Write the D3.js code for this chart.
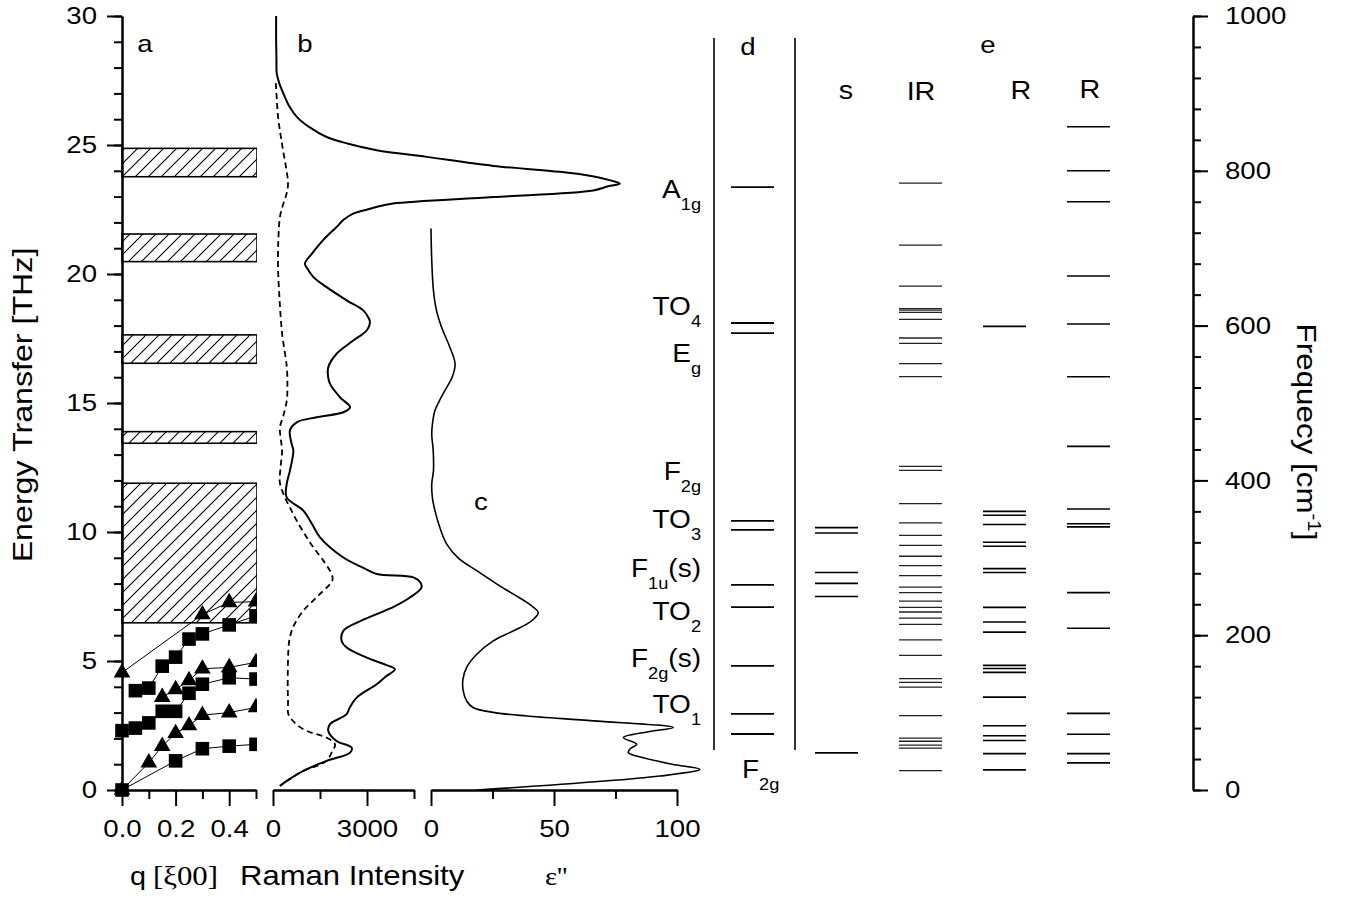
<!DOCTYPE html>
<html>
<head>
<meta charset="utf-8">
<script src="https://d3js.org/d3.v7.min.js"></script>
<style>
  body { margin: 0; background: #fff; }
  text { font-family: Arial, "Liberation Sans", Helvetica, sans-serif; fill: #000; }
</style>
</head>
<body>
<div id="chart"></div>
<script>
// ---- data ----
const energyTicks = [0, 5, 10, 15, 20, 25, 30];
const freqTicks = [0, 200, 400, 600, 800, 1000];

// hatched gaps in panel a [lower, upper] THz
const gapBands = [[23.77, 24.87], [20.48, 21.55], [16.54, 17.64], [13.44, 13.89], [6.48, 11.89]];

// dispersion branches [q, THz]
const triLow = [[0, 0], [0.1, 1.06], [0.15, 1.7], [0.2, 2.2], [0.25, 2.5], [0.3, 2.9], [0.4, 3.0], [0.5, 3.2]];
const sqLow = [[0, 0], [0.2, 1.13], [0.3, 1.6], [0.4, 1.7], [0.5, 1.77]];
const sqMid = [[0, 2.3], [0.05, 2.4], [0.1, 2.6], [0.15, 3.05], [0.2, 3.05], [0.25, 3.75], [0.3, 4.1], [0.4, 4.35], [0.5, 4.3]];
const triMid = [[0.15, 3.6], [0.2, 3.9], [0.25, 4.25], [0.3, 4.7], [0.4, 4.75], [0.5, 4.95]];
const sqHigh = [[0.05, 3.85], [0.1, 3.95], [0.15, 4.8], [0.2, 5.15], [0.25, 5.85], [0.3, 6.05], [0.4, 6.4], [0.5, 6.75]];
const triHigh = [[0, 4.55], [0.3, 6.8], [0.4, 7.27], [0.5, 7.3]];

// Raman spectrum [THz, intensity]
const ramanSolid = [
  [30.0, 100], [29.0, 100], [28.3, 110], [27.77, 120], [27.4, 200], [27.0, 330], [26.5, 520], [26.09, 760],
  [25.7, 1150], [25.31, 1710], [25.05, 2400], [24.8, 3310], [24.54, 4900], [24.19, 7030], [23.96, 9160],
  [23.79, 10200], [23.62, 10800], [23.5, 11070], [23.4, 10700], [23.24, 10220], [22.98, 7030], [22.73, 3830],
  [22.6, 3300], [22.53, 3100], [22.34, 2560], [22.1, 2250], [21.82, 2030], [21.5, 1750], [21.18, 1500],
  [20.8, 1250], [20.4, 1020], [20.2, 1100], [19.88, 1290], [19.49, 1710], [18.98, 2350], [18.59, 2880],
  [18.3, 3050], [18.13, 3095], [17.81, 2990], [17.42, 2560], [16.91, 2030], [16.39, 1765], [16.0, 1760],
  [15.74, 1820], [15.22, 2140], [14.83, 2460], [14.64, 2245], [14.45, 1400], [14.25, 756], [13.93, 540],
  [13.41, 596], [13.15, 650], [12.38, 540], [11.86, 436], [11.34, 436], [10.83, 968], [10.3, 1250],
  [9.79, 1500], [9.01, 2245], [8.6, 2900], [8.37, 3310], [8.24, 4480], [8.05, 4700], [7.85, 4740],
  [7.46, 4370], [7.1, 3850], [6.82, 3310], [6.5, 2700], [6.17, 2245], [5.78, 2190], [5.52, 2350],
  [5.13, 2990], [4.85, 3600], [4.68, 3890], [4.4, 3600], [4.1, 3310], [3.58, 2670], [3.2, 2450],
  [2.94, 2350], [2.55, 1820], [2.29, 1765], [1.9, 2030], [1.64, 2510], [1.45, 2460], [1.13, 1710],
  [0.74, 968], [0.4, 500], [0.16, 220]
];
const ramanDashed = [
  [27.4, 90], [26.8, 120], [26.1, 160], [25.4, 240], [24.8, 320], [24.1, 420], [23.5, 480], [23.1, 430],
  [22.6, 300], [22.2, 220], [21.3, 170], [20.3, 160], [19.0, 210], [17.7, 290], [16.4, 440], [15.6, 460],
  [15.1, 440], [14.5, 330], [14.05, 220], [13.6, 250], [13.15, 290], [12.5, 240], [11.9, 220], [11.34, 380],
  [10.9, 560], [10.44, 756], [9.9, 1020], [9.4, 1290], [8.9, 1600], [8.37, 1870], [8.15, 1900], [7.95, 1800],
  [7.72, 1600], [7.3, 1250], [6.95, 967], [6.5, 720], [6.17, 596], [5.8, 520], [5.4, 490], [4.1, 470],
  [3.4, 480], [2.94, 490], [2.6, 700], [2.29, 1075], [2.03, 1710], [1.77, 1980], [1.45, 1870], [1.13, 1710],
  [0.93, 1390], [0.74, 967], [0.4, 500], [0.16, 220]
];

// dielectric loss [THz, eps'']
const epsLoss = [
  [21.76, 0], [20.53, 0.3], [19.36, 1], [18.6, 2.2], [17.94, 4.3], [17.2, 7.5], [16.52, 9.8], [16.0, 8.6],
  [15.61, 6.4], [15.1, 3.5], [14.71, 1.6], [14.2, 0.6], [13.8, 0.3], [13.15, 0.9], [12.38, 1], [11.86, 0.3],
  [11.3, 0.6], [10.83, 1.6], [10.2, 3.5], [9.53, 6.4], [9.0, 11], [8.5, 18.6], [8.0, 26.5], [7.59, 33.5],
  [7.2, 40], [6.88, 43.6], [6.65, 42], [6.43, 38.9], [6.1, 32], [5.78, 25.3], [5.25, 18.5], [4.75, 14.5],
  [4.3, 13], [3.84, 13.1], [3.45, 14.5], [3.19, 17.2], [3.0, 26], [2.87, 38.9], [2.68, 66], [2.42, 98.5],
  [2.25, 88], [2.03, 78.2], [1.77, 83.6], [1.6, 81], [1.45, 80.2], [1.25, 86.3], [1.0, 98], [0.8, 109.3],
  [0.54, 93], [0.0, 18.6]
];

// panel d modes (THz) and labels
const dModes = [23.37, 18.10, 17.71, 10.43, 10.08, 7.95, 7.09, 4.81, 2.95, 2.17];
const modeLabels = [
  { t: "A", s: "1g", r: "", e: 23.3 },
  { t: "TO", s: "4", r: "", e: 18.76 },
  { t: "E", s: "g", r: "", e: 16.94 },
  { t: "F", s: "2g", r: "", e: 12.36 },
  { t: "TO", s: "3", r: "", e: 10.5 },
  { t: "F", s: "1u", r: "(s)", e: 8.6 },
  { t: "TO", s: "2", r: "", e: 6.94 },
  { t: "F", s: "2g", r: "(s)", e: 5.12 },
  { t: "TO", s: "1", r: "", e: 3.33 }
];
const bottomLabel = { t: "F", s: "2g", e: 0.81 };

// panel e lines (cm-1)
const sLines = [339, 332, 281, 267, 250, 48];
const irLines = [784, 704, 651, 622, 620, 617, 608, 584, 577, 551, 534, 418, 413, 370, 345, 329, 316, 302,
  290, 277, 262, 255, 244, 236, 230, 222, 214, 194, 174, 144, 139, 133, 96, 67, 63, 58, 54, 25];
const r1Lines = [599, 360, 355, 343, 320, 315, 286, 281, 236, 217, 204, 161, 157, 152, 120, 83, 70, 64, 47, 26];
const r2Lines = [857, 800, 760, 664, 602, 534, 444, 363, 344, 340, 255, 209, 99, 72, 47, 35];

// ---- setup ----
const W = 1361, H = 905;
const FONT = 'Arial, "Liberation Sans", Helvetica, sans-serif';
const SERIF = '"Liberation Serif", "Times New Roman", serif';

const yE = d3.scaleLinear().domain([0, 30]).range([790, 16]);
const yF = d3.scaleLinear().domain([0, 1000]).range([790, 16]);
const xQ = d3.scaleLinear().domain([0, 0.5]).range([122, 256]);
const xR = d3.scaleLinear().domain([0, 4500]).range([273, 414]);
const xC = d3.scaleLinear().domain([0, 100]).range([431, 677]);
const col = d3.scalePoint().domain(["d", "s", "IR", "R1", "R2"]).range([731, 1067]);
const colW = 43;

const svg = d3.select("#chart").append("svg").attr("width", W).attr("height", H);
const defs = svg.append("defs");

const pat = defs.append("pattern")
  .attr("id", "hatch")
  .attr("patternUnits", "userSpaceOnUse")
  .attr("width", 13).attr("height", 13);
pat.append("path")
  .attr("d", "M0,13 L13,0 M-3,3 L3,-3 M10,16 L16,10")
  .attr("stroke", "#000").attr("stroke-width", 1.1);

defs.append("clipPath").attr("id", "clipA")
  .append("rect").attr("x", 0).attr("y", 0).attr("width", 257).attr("height", 800);

// text helper: spans = [[string, kind]] kind: "", "sub", "sup", "serif"
function addText(parent, x, y, spans, o = {}) {
  const size = o.size || 24;
  const t = parent.append("text")
    .attr("transform", `translate(${x},${y}) rotate(${o.rotate || 0}) scale(${o.sx || 1},1)`)
    .attr("text-anchor", o.anchor || "start")
    .style("font-size", size + "px");
  let shift = 0;
  spans.forEach(([str, kind]) => {
    const ts = t.append("tspan").text(str);
    const target = kind === "sub" ? size * 0.48 : kind === "sup" ? -size * 0.4 : 0;
    if (target !== shift) ts.attr("dy", target - shift);
    shift = target;
    if (kind === "sub" || kind === "sup") ts.style("font-size", (size * 0.65) + "px");
    if (kind === "serif") ts.style("font-family", SERIF);
  });
  return t;
}

function styleAxis(g, sx) {
  g.attr("font-size", 24).attr("font-family", FONT);
  g.select(".domain").attr("stroke-width", 2);
  g.selectAll(".tick line").attr("stroke-width", 2);
  g.selectAll(".tick text").each(function () {
    const t = d3.select(this);
    const x = +t.attr("x") || 0;
    t.attr("x", 0).attr("transform", `translate(${x},0) scale(${sx},1)`);
  });
}

// ---- panel a ----
const gA = svg.append("g").attr("clip-path", "url(#clipA)");

gA.selectAll("rect.gap")
  .data(gapBands)
  .enter()
  .append("rect")
  .attr("class", "gap")
  .attr("x", xQ(0))
  .attr("y", d => yE(d[1]))
  .attr("width", xQ(0.5) - xQ(0) + 1)
  .attr("height", d => yE(d[0]) - yE(d[1]))
  .attr("fill", "url(#hatch)")
  .attr("stroke", "#000")
  .attr("stroke-width", 1.6);

const branchLine = d3.line().x(d => xQ(d[0])).y(d => yE(d[1]));
const branches = [
  { pts: triLow, sym: d3.symbolTriangle },
  { pts: sqLow, sym: d3.symbolSquare },
  { pts: sqMid, sym: d3.symbolSquare },
  { pts: triMid, sym: d3.symbolTriangle },
  { pts: sqHigh, sym: d3.symbolSquare },
  { pts: triHigh, sym: d3.symbolTriangle }
];
branches.forEach(b => {
  gA.append("path")
    .attr("d", branchLine(b.pts))
    .attr("fill", "none")
    .attr("stroke", "#000")
    .attr("stroke-width", 1);
});
branches.forEach(b => {
  const size = b.sym === d3.symbolSquare ? 185 : 120;
  gA.selectAll(null)
    .data(b.pts)
    .enter()
    .append("path")
    .attr("transform", d => `translate(${xQ(d[0])},${yE(d[1])})`)
    .attr("d", d3.symbol().type(b.sym).size(size))
    .attr("fill", "#000");
});

// ---- panel b ----
const ramanLine = d3.line()
  .x(d => xR(d[1])).y(d => yE(d[0]))
  .curve(d3.curveCatmullRom.alpha(0.5));

svg.append("path")
  .attr("d", ramanLine(ramanDashed))
  .attr("fill", "none")
  .attr("stroke", "#000")
  .attr("stroke-width", 1.8)
  .attr("stroke-dasharray", "6,4");

svg.append("path")
  .attr("d", ramanLine(ramanSolid))
  .attr("fill", "none")
  .attr("stroke", "#000")
  .attr("stroke-width", 2);

// ---- panel c ----
const epsLine = d3.line()
  .x(d => xC(d[1])).y(d => yE(d[0]))
  .curve(d3.curveCatmullRom.alpha(0.5));

svg.append("path")
  .attr("d", epsLine(epsLoss))
  .attr("fill", "none")
  .attr("stroke", "#000")
  .attr("stroke-width", 1.6);

// ---- axes ----
const axLeftMinor = svg.append("g").attr("transform", "translate(122,0)")
  .call(d3.axisLeft(yE).tickValues(d3.range(0, 31, 1)).tickSize(8).tickFormat("").tickSizeOuter(0));
styleAxis(axLeftMinor, 1);
const axLeft = svg.append("g").attr("transform", "translate(122,0)")
  .call(d3.axisLeft(yE).tickValues(energyTicks).tickSize(15).tickPadding(10).tickSizeOuter(0));
styleAxis(axLeft, 1.15);

const axRightMinor = svg.append("g").attr("transform", "translate(1193,0)")
  .call(d3.axisRight(yF).tickValues(d3.range(0, 1001, 40)).tickSize(8).tickFormat("").tickSizeOuter(0));
styleAxis(axRightMinor, 1);
const axRight = svg.append("g").attr("transform", "translate(1193,0)")
  .call(d3.axisRight(yF).tickValues(freqTicks).tickSize(15).tickPadding(17)
    .tickFormat(d3.format("d")).tickSizeOuter(0));
styleAxis(axRight, 1.15);

function bottomAxis(scale, major, minor, fmt) {
  const gm = svg.append("g").attr("transform", "translate(0,790)")
    .call(d3.axisBottom(scale).tickValues(minor).tickSize(9).tickFormat("").tickSizeOuter(0));
  styleAxis(gm, 1);
  const g = svg.append("g").attr("transform", "translate(0,790)")
    .call(d3.axisBottom(scale).tickValues(major).tickSize(16).tickPadding(14).tickFormat(fmt).tickSizeOuter(0));
  styleAxis(g, 1.15);
}
bottomAxis(xQ, [0, 0.2, 0.4], [0.1, 0.3, 0.5], d3.format(".1f"));
bottomAxis(xR, [0, 3000], [1500, 4500], d3.format("d"));
bottomAxis(xC, [0, 50, 100], [25, 75], d3.format("d"));

// ---- panel d ----
svg.append("g")
  .selectAll("line")
  .data([714, 795])
  .enter()
  .append("line")
  .attr("x1", d => d).attr("x2", d => d)
  .attr("y1", 38).attr("y2", 750)
  .attr("stroke", "#000").attr("stroke-width", 1.6);

svg.append("g")
  .selectAll("line")
  .data(dModes)
  .enter()
  .append("line")
  .attr("x1", col("d")).attr("x2", col("d") + colW)
  .attr("y1", d => yE(d)).attr("y2", d => yE(d))
  .attr("stroke", "#000").attr("stroke-width", 1.8);

modeLabels.forEach(m => {
  const spans = [[m.t, ""], [m.s, "sub"]];
  if (m.r) spans.push([m.r, ""]);
  addText(svg, 701, yE(m.e) + 9, spans, { anchor: "end", size: 25, sx: 1.12 });
});
addText(svg, 742, yE(bottomLabel.e) + 9, [[bottomLabel.t, ""], [bottomLabel.s, "sub"]], { size: 25, sx: 1.12 });

// ---- panel e ----
const eCols = [["s", sLines], ["IR", irLines], ["R1", r1Lines], ["R2", r2Lines]];
eCols.forEach(([key, vals]) => {
  svg.append("g")
    .selectAll("line")
    .data(vals)
    .enter()
    .append("line")
    .attr("x1", col(key)).attr("x2", col(key) + colW)
    .attr("y1", d => yF(d)).attr("y2", d => yF(d))
    .attr("stroke", key === "IR" ? "#222" : "#000")
    .attr("stroke-width", key === "IR" ? 1.3 : 1.6);
});

// ---- panel letters and headers ----
addText(svg, 145, 52, [["a", ""]], { anchor: "middle", size: 24, sx: 1.15 });
addText(svg, 305, 52, [["b", ""]], { anchor: "middle", size: 24, sx: 1.15 });
addText(svg, 481, 510, [["c", ""]], { anchor: "middle", size: 24, sx: 1.15 });
addText(svg, 748, 55, [["d", ""]], { anchor: "middle", size: 24, sx: 1.15 });
addText(svg, 988, 53, [["e", ""]], { anchor: "middle", size: 24, sx: 1.15 });
addText(svg, 846, 99, [["s", ""]], { anchor: "middle", size: 25, sx: 1.15 });
addText(svg, 921, 100, [["IR", ""]], { anchor: "middle", size: 25, sx: 1.15 });
addText(svg, 1021, 99, [["R", ""]], { anchor: "middle", size: 25, sx: 1.15 });
addText(svg, 1090, 98, [["R", ""]], { anchor: "middle", size: 25, sx: 1.15 });

// ---- axis titles ----
addText(svg, 32, 405, [["Energy Transfer [THz]", ""]], { anchor: "middle", size: 28, sx: 1.15, rotate: -90 });
addText(svg, 1297, 432, [["Frequecy [cm", ""], ["-1", "sup"], ["]", ""]], { anchor: "middle", size: 28, sx: 1.12, rotate: 90 });
addText(svg, 130, 885, [["q", ""]], { size: 25, sx: 1.15 });
addText(svg, 153, 885, [["[ξ00]", "serif"]], { size: 28, sx: 1.1 });
addText(svg, 240, 885, [["Raman Intensity", ""]], { size: 27, sx: 1.15 });
addText(svg, 545, 885, [["ε''", "serif"]], { size: 26, sx: 1.1 });
</script>
</body>
</html>
